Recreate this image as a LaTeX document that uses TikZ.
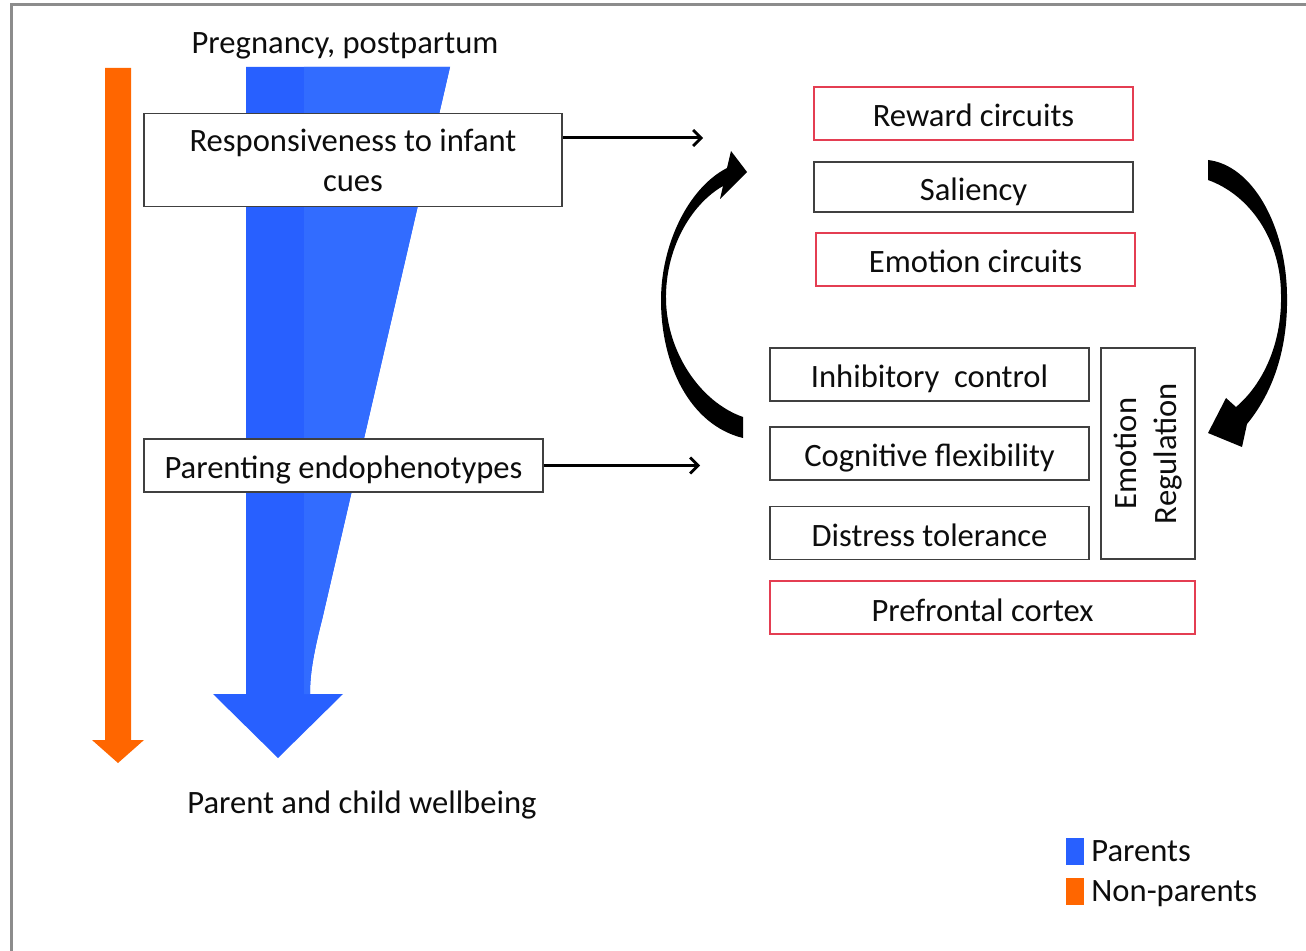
\documentclass[tikz,border=0pt]{standalone}
\usepackage{fontspec}
\setmainfont{Carlito}
\usetikzlibrary{arrows.meta,positioning,calc}
\definecolor{parentblue}{RGB}{40,96,255}
\definecolor{parentlight}{RGB}{50,108,255}
\definecolor{nonparent}{RGB}{255,102,0}
\definecolor{boxred}{RGB}{228,62,82}
\definecolor{framegray}{RGB}{140,140,140}
\newcommand{\lbl}{\fontsize{16.3}{20}\selectfont}
\tikzset{
  frameln/.style={line width=1.5pt, framegray},
  txt/.style={text=black!95, font=\lbl, inner sep=0pt, text height=14.5pt, text depth=1pt},
  blk/.style={txt, draw=black!75, line width=0.9pt, fill=white,
    minimum width=159.5pt, minimum height=26.5pt},
  redblk/.style={blk, draw=boxred},
  thinarr/.style={-{Straight Barb[length=4pt,width=8pt,line width=1.4pt]}, line width=1.5pt},
  loopfill/.style={fill=black},
}

\begin{document}
\begin{tikzpicture}[x=0.5pt, y=-0.5pt]
    \useasboundingbox (0,0) rectangle (1306,951);
    \draw[frameln] (11,951) -- (11,5) -- (1306,5);
    % non-parents: plain orange arrow
    \fill[nonparent] (105,68) -- (131,68) -- (131,740) -- (144,740) -- (118,763)
      -- (92,740) -- (105,740) -- cycle;
    % parents: tapering blue arrow
    \fill[parentblue] (246,67) -- (450,67) -- (322,620)
      .. controls (313,655) and (310,675) .. (310,694) -- (343,694) -- (278,758)
      -- (213,694) -- (246,694) -- cycle;
    \fill[parentlight] (304,67) -- (450,67) -- (322,620)
      .. controls (313,655) and (310,675) .. (310,694) -- (304,694) -- cycle;
    \node[txt] (preg) at (345,40.5) {Pregnancy, postpartum};
    \node[txt] (wellb) at (362,800) {Parent and child wellbeing};
    % left column boxes
    \node[blk, text height=, text depth=, minimum width=209pt, minimum height=46.5pt,
      align=center] (resp) at (353,160) {Responsiveness to infant\\cues};
    \node[blk, minimum width=199.5pt] (endo) at (343.5,465.5) {Parenting endophenotypes};
    % circuits
    \node[redblk] (reward) at (973.5,113.5) {Reward circuits};
    \node[blk, minimum height=25pt] (salien) at (973.5,187) {Saliency};
    \node[redblk] (emocirc) at (975.5,259.5) {Emotion circuits};
    % regulation
    \node[blk] (inhib) at (929.5,374.5) {Inhibitory~ control};
    \node[blk] (cogflex) at (929.5,453.5) {Cognitive flexibility};
    \node[blk] (distress) at (929.5,533) {Distress tolerance};
    \node[blk, text height=, text depth=, rotate=90, minimum width=105.5pt,
      minimum height=47pt, align=center] (emoreg) at (1148,453.5) {Emotion\\Regulation};
    \node[redblk, minimum width=212.5pt] (pfc) at (982.5,607.5) {Prefrontal cortex};
    % links into the loop
    \coordinate (circin) at (703,138);
    \coordinate (regin) at (700,465.5);
    \draw[thinarr] (resp.east |- circin) -- (circin);
    \draw[thinarr] (endo.east) -- (regin);
    % curved arrows of the loop
    \path[loopfill] (743,438) -- (743,417)
      .. controls (700,402) and (667,352) .. (666,300)
      .. controls (665,250) and (690,205) .. (723,186)
      -- (720,199) -- (747,172) -- (731,151) -- (727,168)
      .. controls (688,188) and (661,245) .. (661,300)
      .. controls (661,365) and (690,425) .. (743,438) -- cycle;
    \path[loopfill] (1208,160) -- (1208,180)
      .. controls (1250,195) and (1281,240) .. (1281,295)
      .. controls (1282,345) and (1262,385) .. (1236,407)
      -- (1226,398) -- (1208,433) -- (1242,447) -- (1247,424)
      .. controls (1275,390) and (1288,345) .. (1287,295)
      .. controls (1286,225) and (1252,165) .. (1208,160) -- cycle;
    % legend
    \fill[parentblue] (1066,838) rectangle (1084,865);
    \fill[nonparent] (1066,878) rectangle (1084,905);
    \node[txt, anchor=west] (lgpar) at (1091,847.5) {Parents};
    \node[txt, anchor=west] (lgnon) at (1091,887.5) {Non-parents};
  \end{tikzpicture}
\end{document}
